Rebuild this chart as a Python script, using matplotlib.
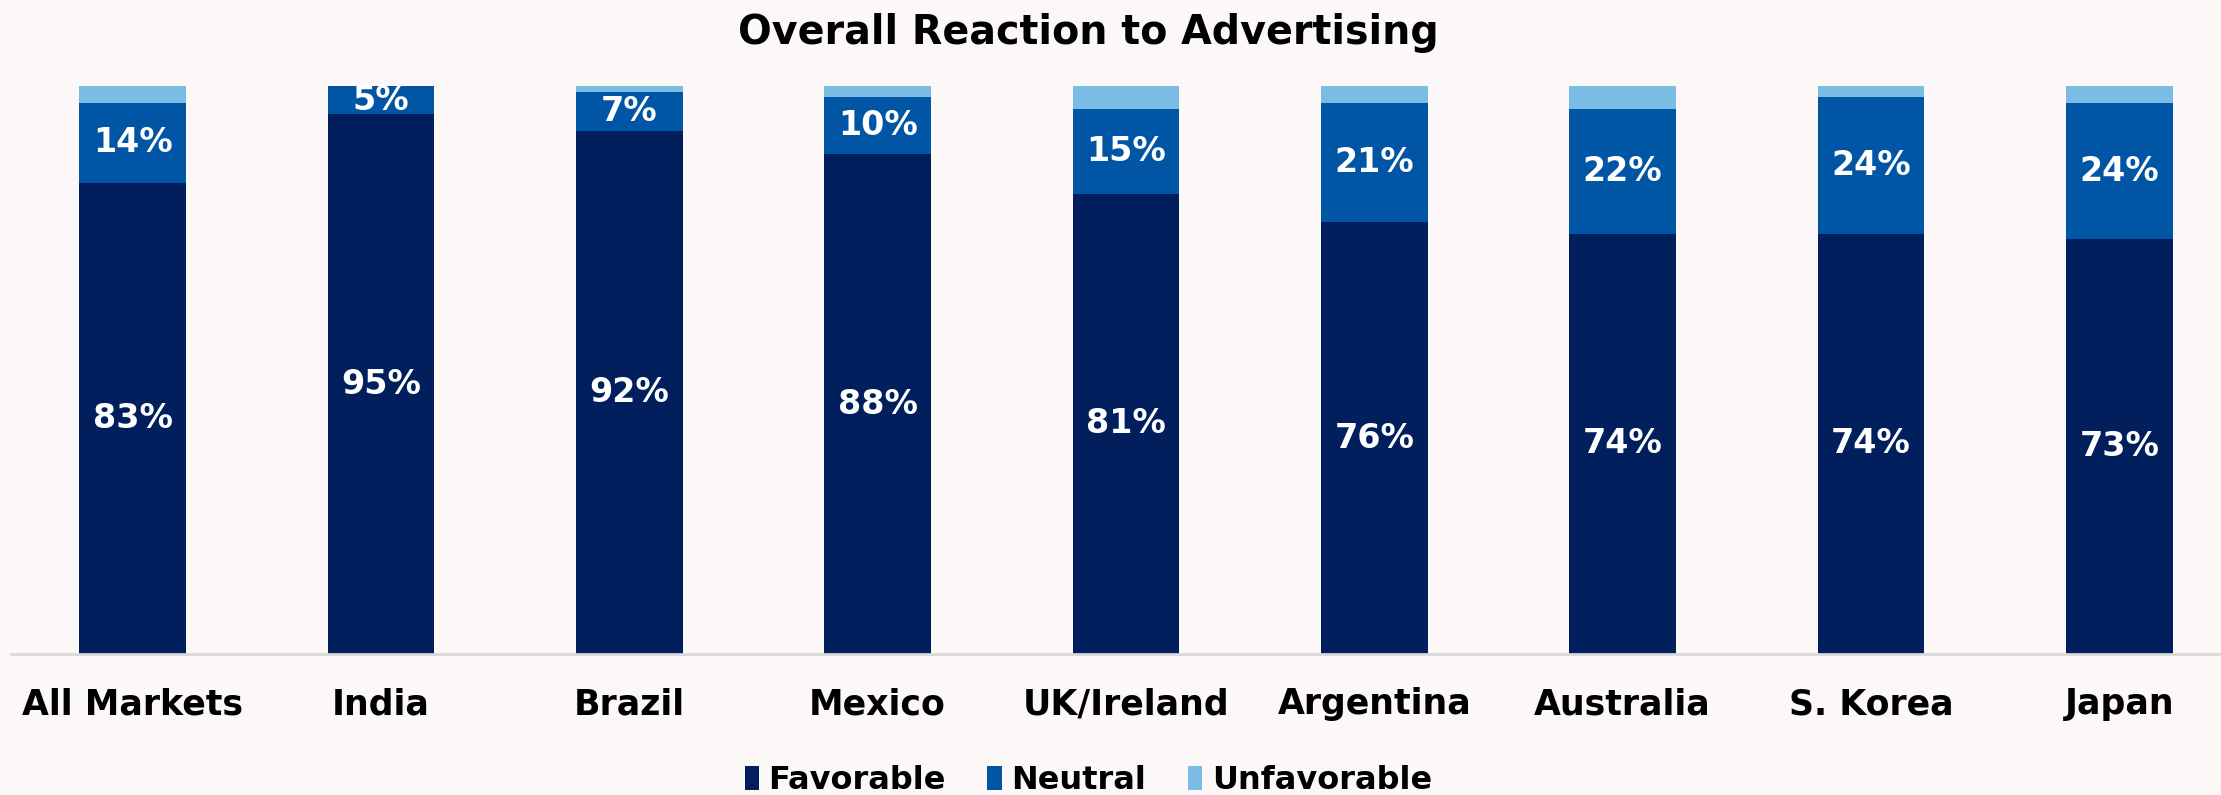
import matplotlib
matplotlib.use("Agg")
import matplotlib.pyplot as plt
import numpy as np

markets = ["All Markets", "India", "Brazil", "Mexico", "UK/Ireland",
           "Argentina", "Australia", "S. Korea", "Japan"]
favorable = [83, 95, 92, 88, 81, 76, 74, 74, 73]
neutral = [14, 5, 7, 10, 15, 21, 22, 24, 24]
unfavorable = [3, 0.5, 1, 2, 4, 3, 4, 2.5, 3]

C_FAV = "#001F5C"
C_NEU = "#0055A4"
C_UNF = "#7BBCE4"
BG = "#FBF8F7"

plt.rcParams["font.family"] = ["DejaVu Sans"]

fig = plt.figure(figsize=(22.21, 7.95), dpi=100)
fig.patch.set_facecolor(BG)
ax = fig.add_axes([0.005, 0.1774, 0.995, 0.7145])
ax.set_facecolor(BG)

x = np.arange(len(markets))
w = 0.43
fav = np.array(favorable)
neu = np.array(neutral)
unf = np.array(unfavorable)

b1 = ax.bar(x, fav, w, color=C_FAV, label="Favorable")
b2 = ax.bar(x, neu, w, bottom=fav, color=C_NEU, label="Neutral")
b3 = ax.bar(x, unf, w, bottom=fav + neu, color=C_UNF, label="Unfavorable")

# labels blancs centrés dans chaque segment
for i in range(len(markets)):
    ax.text(x[i], fav[i] / 2, f"{fav[i]:.0f}%", ha="center", va="center",
            color="white", fontsize=24, fontweight="bold")
    ax.text(x[i], fav[i] + neu[i] / 2, f"{neu[i]:.0f}%", ha="center",
            va="center", color="white", fontsize=24, fontweight="bold")

ax.set_xlim(-0.49, 8.41)
ax.set_ylim(0, 100)
ax.set_yticks([])
ax.set_xticks(x)
ax.set_xticklabels(markets, fontsize=25, fontweight="bold")
ax.tick_params(axis="x", length=0, pad=24)
for s in ["top", "right", "left"]:
    ax.spines[s].set_visible(False)
ax.spines["bottom"].set_color("#D9D9D9")
ax.spines["bottom"].set_linewidth(2)

fig.text(0.49, 0.958, "Overall Reaction to Advertising", ha="center",
         va="center", fontsize=28.5, fontweight="bold")

leg = fig.legend(handles=[b1, b2, b3], loc="center", bbox_to_anchor=(0.49, 0.018),
                 ncol=3, frameon=False, fontsize=23, handlelength=0.45,
                 handleheight=0.75, handletextpad=0.3, columnspacing=1.3)
for t in leg.get_texts():
    t.set_fontweight("bold")

fig.savefig("out.png", dpi=100, facecolor=BG)
